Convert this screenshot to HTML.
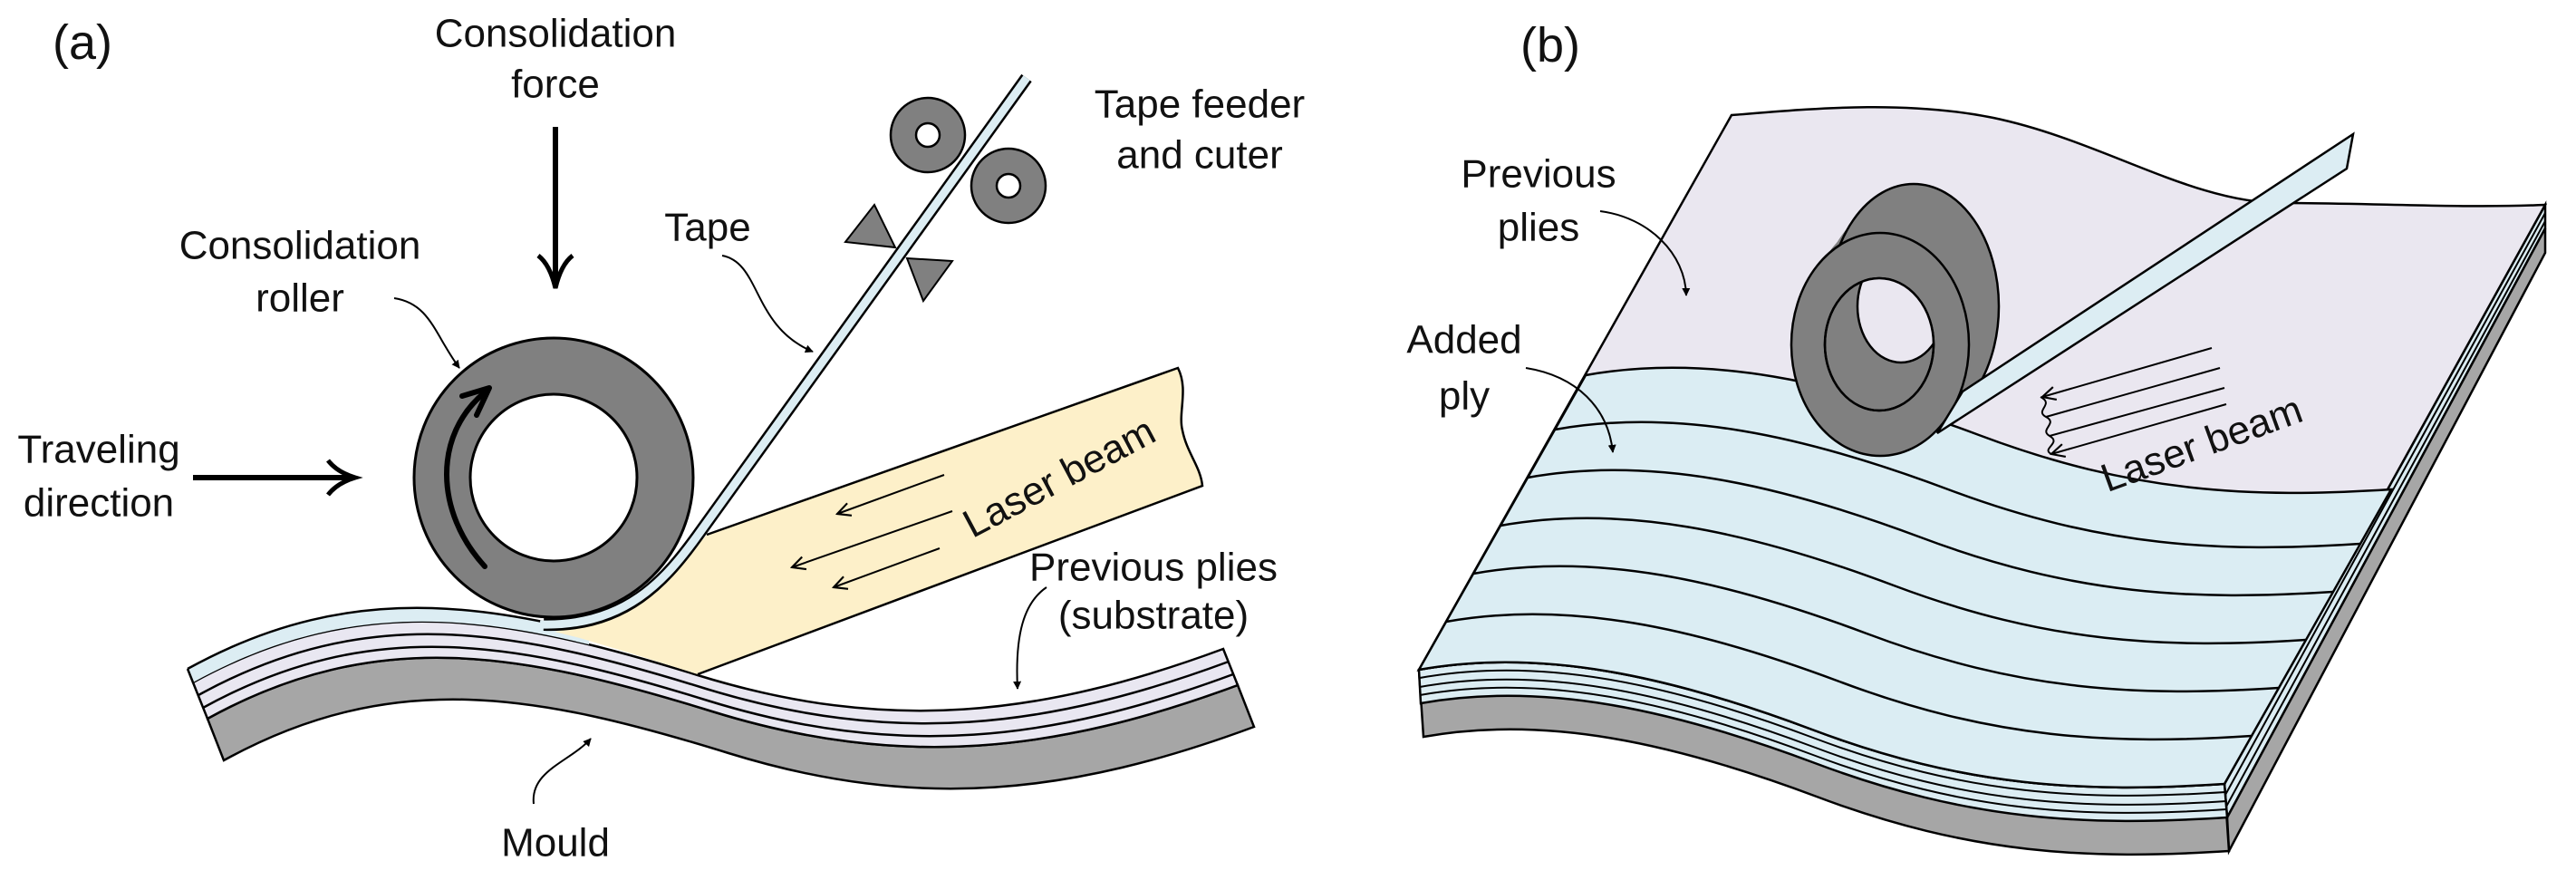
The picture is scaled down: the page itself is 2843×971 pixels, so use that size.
<!DOCTYPE html>
<html><head><meta charset="utf-8"><style>
html,body{margin:0;padding:0;background:#fff;}
svg{display:block;}
text{font-family:"Liberation Sans",sans-serif;font-size:44px;fill:#111;text-anchor:middle;dominant-baseline:central;}
</style></head><body>
<svg width="2843" height="971" viewBox="0 0 2843 971" xmlns="http://www.w3.org/2000/svg">
<defs>
<marker id="sa" viewBox="0 0 10 10" refX="9" refY="5" markerWidth="9" markerHeight="9" orient="auto" markerUnits="userSpaceOnUse"><path d="M0,0 L10,5 L0,10 Z" fill="#000"/></marker>
<marker id="ba" viewBox="0 0 10 10" refX="9" refY="5" markerWidth="18" markerHeight="18" orient="auto" markerUnits="userSpaceOnUse"><path d="M1,1 L9,5 L1,9" fill="none" stroke="#000" stroke-width="1.2"/></marker>
<clipPath id="tapeclip"><rect x="0" y="0" width="650" height="971"/></clipPath>
<clipPath id="tapeclip2"><rect x="0" y="0" width="605" height="971"/></clipPath>
<clipPath id="ringclip"><ellipse cx="2074" cy="380" rx="60" ry="73"/></clipPath>
</defs>

<!-- ===== (a) ===== -->
<text x="91" y="47" style="font-size:54px">(a)</text>
<text x="613" y="37">Consolidation</text>
<text x="613" y="93">force</text>
<text x="331" y="271">Consolidation</text>
<text x="331" y="329">roller</text>
<text x="109" y="496">Traveling</text>
<text x="109" y="555">direction</text>
<text x="781" y="251">Tape</text>
<text x="1324" y="115">Tape feeder</text>
<text x="1324" y="171">and cuter</text>
<text x="1273" y="626">Previous plies</text>
<text x="1273" y="679">(substrate)</text>
<text x="613" y="930">Mould</text>

<!-- force arrow -->
<line x1="613" y1="140" x2="613" y2="314" stroke="#000" stroke-width="6"/>
<path d="M594,282 Q607,292 613,318 Q619,292 632,282" fill="none" stroke="#000" stroke-width="5"/>
<!-- travel arrow -->
<line x1="213" y1="527" x2="388" y2="527" stroke="#000" stroke-width="6"/>
<path d="M362,508 Q372,521 392,527 Q372,533 362,546" fill="none" stroke="#000" stroke-width="5"/>

<!-- substrate -->
<path d="M229,793 C416,690 576,720 786,785 C996,850 1166,830 1366,756 L1384,802 C1184,876 1014,896 804,831 C594,766 434,736 247,839 Z" fill="#a6a6a6" stroke="#000" stroke-width="2.5"/>
<path d="M213,753 C400,650 560,680 770,745 C980,810 1150,790 1350,716 L1366,756 C1166,830 996,850 786,785 C576,720 416,690 229,793 Z" fill="#e9e7f1" stroke="#000" stroke-width="2.5"/>
<path d="M219,767 C406,664 566,694 776,759 C986,824 1156,804 1356,730" fill="none" stroke="#000" stroke-width="2.5"/>
<path d="M224,781 C411,678 571,708 781,773 C991,838 1161,818 1361,744" fill="none" stroke="#000" stroke-width="2.5"/>
<!-- tape on substrate -->
<path clip-path="url(#tapeclip)" d="M207,738 C394,635 554,665 764,730 L770,745 C560,680 400,650 213,753 Z" fill="#dcedf3"/>
<path clip-path="url(#tapeclip2)" d="M207,738 C394,635 554,665 764,730" fill="none" stroke="#000" stroke-width="2.5"/>
<line x1="207" y1="738" x2="213" y2="753" stroke="#000" stroke-width="2.5"/>

<!-- laser beam -->
<path d="M780,590 L1300,406 C1312,430 1300,455 1305,475 C1310,500 1325,515 1327,536 L770,744 L700,722 L640,704 L612,697 L660,688 L710,665 L745,630 Z" fill="#fdf0c9" stroke="none"/>
<path d="M780,590 L1300,406 C1312,430 1300,455 1305,475 C1310,500 1325,515 1327,536 L770,744" fill="none" stroke="#000" stroke-width="2.5"/>
<text x="1169" y="527" transform="rotate(-28 1169 527)">Laser beam</text>
<line x1="1042" y1="524" x2="924" y2="567" stroke="#000" stroke-width="2" marker-end="url(#ba)"/>
<line x1="1051" y1="564" x2="874" y2="626" stroke="#000" stroke-width="2" marker-end="url(#ba)"/>
<line x1="1037" y1="605" x2="920" y2="648" stroke="#000" stroke-width="2" marker-end="url(#ba)"/>

<!-- roller -->
<circle cx="611" cy="527" r="154" fill="#808080" stroke="#000" stroke-width="3"/>
<circle cx="611" cy="527" r="92" fill="#fff" stroke="#000" stroke-width="3"/>
<path d="M535,625 C480,565 478,480 535,433" fill="none" stroke="#000" stroke-width="6" stroke-linecap="round"/>
<path d="M510,437 L540,428 L526,458" fill="none" stroke="#000" stroke-width="6" stroke-linecap="round" stroke-linejoin="round"/>

<!-- tape rising -->
<path d="M600,689 C690,692 735,640 772,588 L1133,86" fill="none" stroke="#000" stroke-width="14"/>
<path d="M596,689 C690,692 735,640 772,588 L1133,86" fill="none" stroke="#dcedf3" stroke-width="9"/>

<!-- feeder -->
<circle cx="1024" cy="149" r="41" fill="#808080" stroke="#000" stroke-width="2.5"/>
<circle cx="1024" cy="149" r="13" fill="#fff" stroke="#000" stroke-width="2.5"/>
<circle cx="1113" cy="205" r="41" fill="#808080" stroke="#000" stroke-width="2.5"/>
<circle cx="1113" cy="205" r="13" fill="#fff" stroke="#000" stroke-width="2.5"/>
<polygon points="965,226 933,267 988,273" fill="#808080" stroke="#000" stroke-width="2"/>
<polygon points="1001,285 1051,288 1019,332" fill="#808080" stroke="#000" stroke-width="2"/>

<!-- leaders -->
<path d="M435,329 C475,335 480,370 507,406" fill="none" stroke="#000" stroke-width="2" marker-end="url(#sa)"/>
<path d="M797,282 C840,290 830,360 897,388" fill="none" stroke="#000" stroke-width="2" marker-end="url(#sa)"/>
<path d="M1155,648 C1130,665 1120,700 1123,760" fill="none" stroke="#000" stroke-width="2" marker-end="url(#sa)"/>
<path d="M589,887 C585,850 630,840 652,815" fill="none" stroke="#000" stroke-width="2" marker-end="url(#sa)"/>

<!-- ===== (b) ===== -->
<text x="1711" y="50" style="font-size:54px">(b)</text>

<!-- right side face -->
<polygon points="2809,226 2809,252 2458,902 2455,865" fill="#dcedf3" stroke="#000" stroke-width="2.5"/>
<polygon points="2809,252 2809,279 2460,939 2458,902" fill="#a6a6a6" stroke="#000" stroke-width="2.5"/>
<line x1="2809" y1="235" x2="2456" y2="877" stroke="#000" stroke-width="2"/>
<line x1="2809" y1="244" x2="2457" y2="890" stroke="#000" stroke-width="2"/>

<!-- front face -->
<path d="M1566,739 C1700,715 1840,745 2000,805 C2170,869 2300,875 2455,865 L2460,939 C2305,949 2175,943 2005,879 C1845,819 1705,789 1571,813 Z" fill="#a6a6a6" stroke="#000" stroke-width="2.5"/>
<path d="M1566,739 C1700,715 1840,745 2000,805 C2170,869 2300,875 2455,865 L2458,902 C2303,912 2173,906 2003,842 C1843,782 1703,752 1568,776 Z" fill="#dcedf3" stroke="#000" stroke-width="2.5"/>
<path d="M1567,748 C1701,724 1841,754 2001,814 C2171,878 2301,884 2456,874" fill="none" stroke="#000" stroke-width="2"/>
<path d="M1567,758 C1701,734 1841,764 2001,824 C2171,888 2301,894 2457,884" fill="none" stroke="#000" stroke-width="2"/>
<path d="M1567,767 C1701,743 1841,773 2001,833 C2171,897 2301,903 2457,893" fill="none" stroke="#000" stroke-width="2"/>

<!-- top surface -->
<path d="M1911,127 C2000,120 2100,110 2200,130 C2320,155 2420,225 2520,224 C2620,224 2720,230 2809,226 L2455,865 C2300,875 2170,869 2000,805 C1840,745 1700,715 1566,739 Z" fill="#eae7f0" stroke="#000" stroke-width="2.5"/>
<!-- added ply region -->
<path d="M1750,414 C1884,390 2024,420 2184,480 C2354,544 2484,550 2639,540 L2455,865 C2300,875 2170,869 2000,805 C1840,745 1700,715 1566,739 Z" fill="#dbedf3" stroke="#000" stroke-width="2.5"/>
<g fill="none" stroke="#000" stroke-width="2.5">
<path d="M1716,474 C1850,450 1990,480 2150,540 C2320,604 2450,610 2605,600"/>
<path d="M1686,527 C1820,503 1960,533 2120,593 C2290,657 2420,663 2575,653"/>
<path d="M1656,580 C1790,556 1930,586 2090,646 C2260,710 2390,716 2545,706"/>
<path d="M1626,633 C1760,609 1900,639 2060,699 C2230,763 2360,769 2515,759"/>
<path d="M1596,686 C1730,662 1870,692 2030,752 C2200,816 2330,822 2485,812"/>
</g>

<!-- roller (b) -->
<g fill="#808080" stroke="none">
<ellipse cx="2112" cy="338" rx="94" ry="135"/>
<ellipse cx="2100" cy="352" rx="95" ry="131"/>
<ellipse cx="2088" cy="366" rx="96" ry="127"/>
</g>
<ellipse cx="2112" cy="338" rx="94" ry="135" fill="none" stroke="#000" stroke-width="2.5"/>
<ellipse cx="2075" cy="380" rx="98" ry="123" fill="#808080" stroke="#000" stroke-width="2.5"/>
<ellipse cx="2074" cy="380" rx="60" ry="73" fill="#808080" stroke="#000" stroke-width="2.5"/>
<ellipse clip-path="url(#ringclip)" cx="2098" cy="338" rx="48" ry="62" fill="#eae7f0" stroke="#000" stroke-width="2.5"/>
<ellipse cx="2074" cy="380" rx="60" ry="73" fill="none" stroke="#000" stroke-width="2.5"/>

<!-- tape (b) -->
<polygon points="2138,478 2590,186 2597,148 2166,432" fill="#dcedf3" stroke="#000" stroke-width="2.5"/>

<!-- laser (b) -->
<g stroke="#000" stroke-width="2" fill="none">
<line x1="2441" y1="384" x2="2254" y2="438" marker-end="url(#ba)"/>
<line x1="2450" y1="406" x2="2258" y2="460"/>
<line x1="2455" y1="428" x2="2262" y2="481"/>
<line x1="2457" y1="446" x2="2264" y2="501" marker-end="url(#ba)"/>
<path d="M2252,438 C2268,446 2245,453 2258,460 C2272,467 2250,474 2262,481 C2276,489 2252,495 2264,501"/>
</g>
<text x="2430" y="490" transform="rotate(-20 2430 490)">Laser beam</text>

<text x="1698" y="192">Previous</text>
<text x="1698" y="251">plies</text>
<text x="1616" y="375">Added</text>
<text x="1616" y="437">ply</text>
<path d="M1766,233 C1820,240 1860,280 1861,326" fill="none" stroke="#000" stroke-width="2" marker-end="url(#sa)"/>
<path d="M1684,406 C1740,415 1775,450 1780,499" fill="none" stroke="#000" stroke-width="2" marker-end="url(#sa)"/>
</svg>
</body></html>
